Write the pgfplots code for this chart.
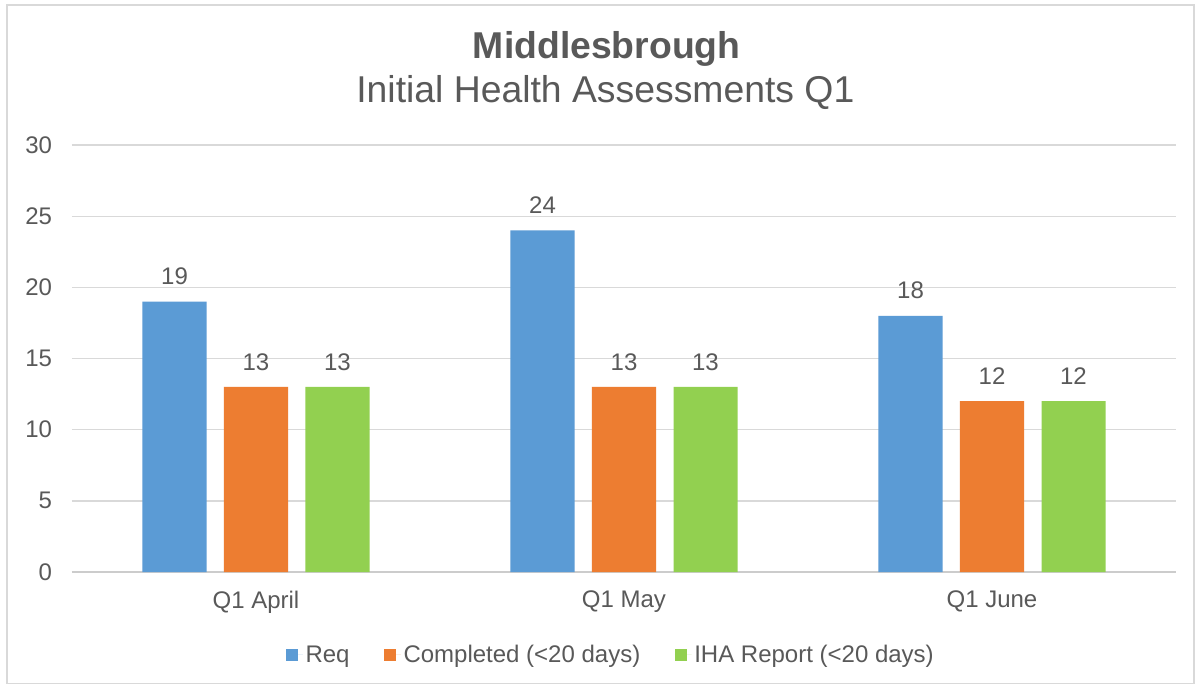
\documentclass[border=0pt]{standalone}
\usepackage{pgfplots}
\pgfplotsset{compat=1.18}
\usepackage{fontspec}
\setmainfont{Liberation Sans}
\definecolor{cblue}{HTML}{5B9BD5}
\definecolor{corange}{HTML}{ED7D31}
\definecolor{cgreen}{HTML}{92D050}
\definecolor{ctext}{HTML}{595959}
\definecolor{cgrid}{HTML}{D9D9D9}
\definecolor{caxis}{HTML}{CCCCCC}
\pgfplotsset{sqleg/.style={legend image code/.code={\fill[##1] (0pt,-4.5pt) rectangle (9pt,4.5pt); \path (0pt,0pt) -- (12.5pt,0pt);}}}
\begin{document}
\begin{tikzpicture}[x=1pt,y=1pt]
\fill[white] (0,0) rectangle (899.25,514.5);
\draw[cgrid, line width=0.9pt] (5.25,1.8) rectangle (895.5,510.75);
\node[anchor=base, text=ctext, font=\fontsize{28}{32}\selectfont\bfseries] at (455,470.25) {Middlesbrough};
\node[anchor=base, text=ctext, font=\fontsize{28}{32}\selectfont] at (454,437.25) {Initial Health Assessments Q1};
\begin{axis}[
  at={(54pt,85.5pt)}, anchor=south west, scale only axis,
  width=828pt, height=320.25pt,
  xmin=-0.5, xmax=2.5, ymin=0, ymax=30,
  ytick={0,5,...,30}, xtick={0,1,2}, xticklabels={Q1 April,Q1 May,Q1 June},
  axis x line*=bottom, axis y line*=left,
  x axis line style={draw=caxis, line width=1pt, -},
  y axis line style={draw=none},
  major tick length=0pt, tick style={draw=none},
  ymajorgrids, grid style={draw=cgrid, line width=1pt},
  ticklabel style={font=\fontsize{18}{21}\selectfont, text=ctext},
  yticklabel style={xshift=-11.5pt},
  xticklabel style={yshift=-10.5pt},
  /pgf/number format/assume math mode=true,
  nodes near coords,
  nodes near coords style={font=\fontsize{18}{21}\selectfont, text=ctext, yshift=9pt},
  legend columns=3,
  legend style={at={(0.4885,-0.194)}, anchor=center, draw=none, fill=none,
    font=\fontsize{18}{21}\selectfont, text=ctext,
    /tikz/every even column/.append style={column sep=24pt}},
  legend cell align=left,
]
\addplot[ybar, bar width=0.174, bar shift=-0.2215, fill=cblue, draw=none, sqleg,
  every node near coord/.append style={xshift=-61.1pt}]
  coordinates {(0,19) (1,24) (2,18)};
\addplot[ybar, bar width=0.174, bar shift=0, fill=corange, draw=none, sqleg]
  coordinates {(0,13) (1,13) (2,12)};
\addplot[ybar, bar width=0.174, bar shift=0.2215, fill=cgreen, draw=none, sqleg,
  every node near coord/.append style={xshift=61.1pt}]
  coordinates {(0,13) (1,13) (2,12)};
\legend{Req, Completed (<20 days), IHA Report (<20 days)}
\end{axis}
\end{tikzpicture}
\end{document}
